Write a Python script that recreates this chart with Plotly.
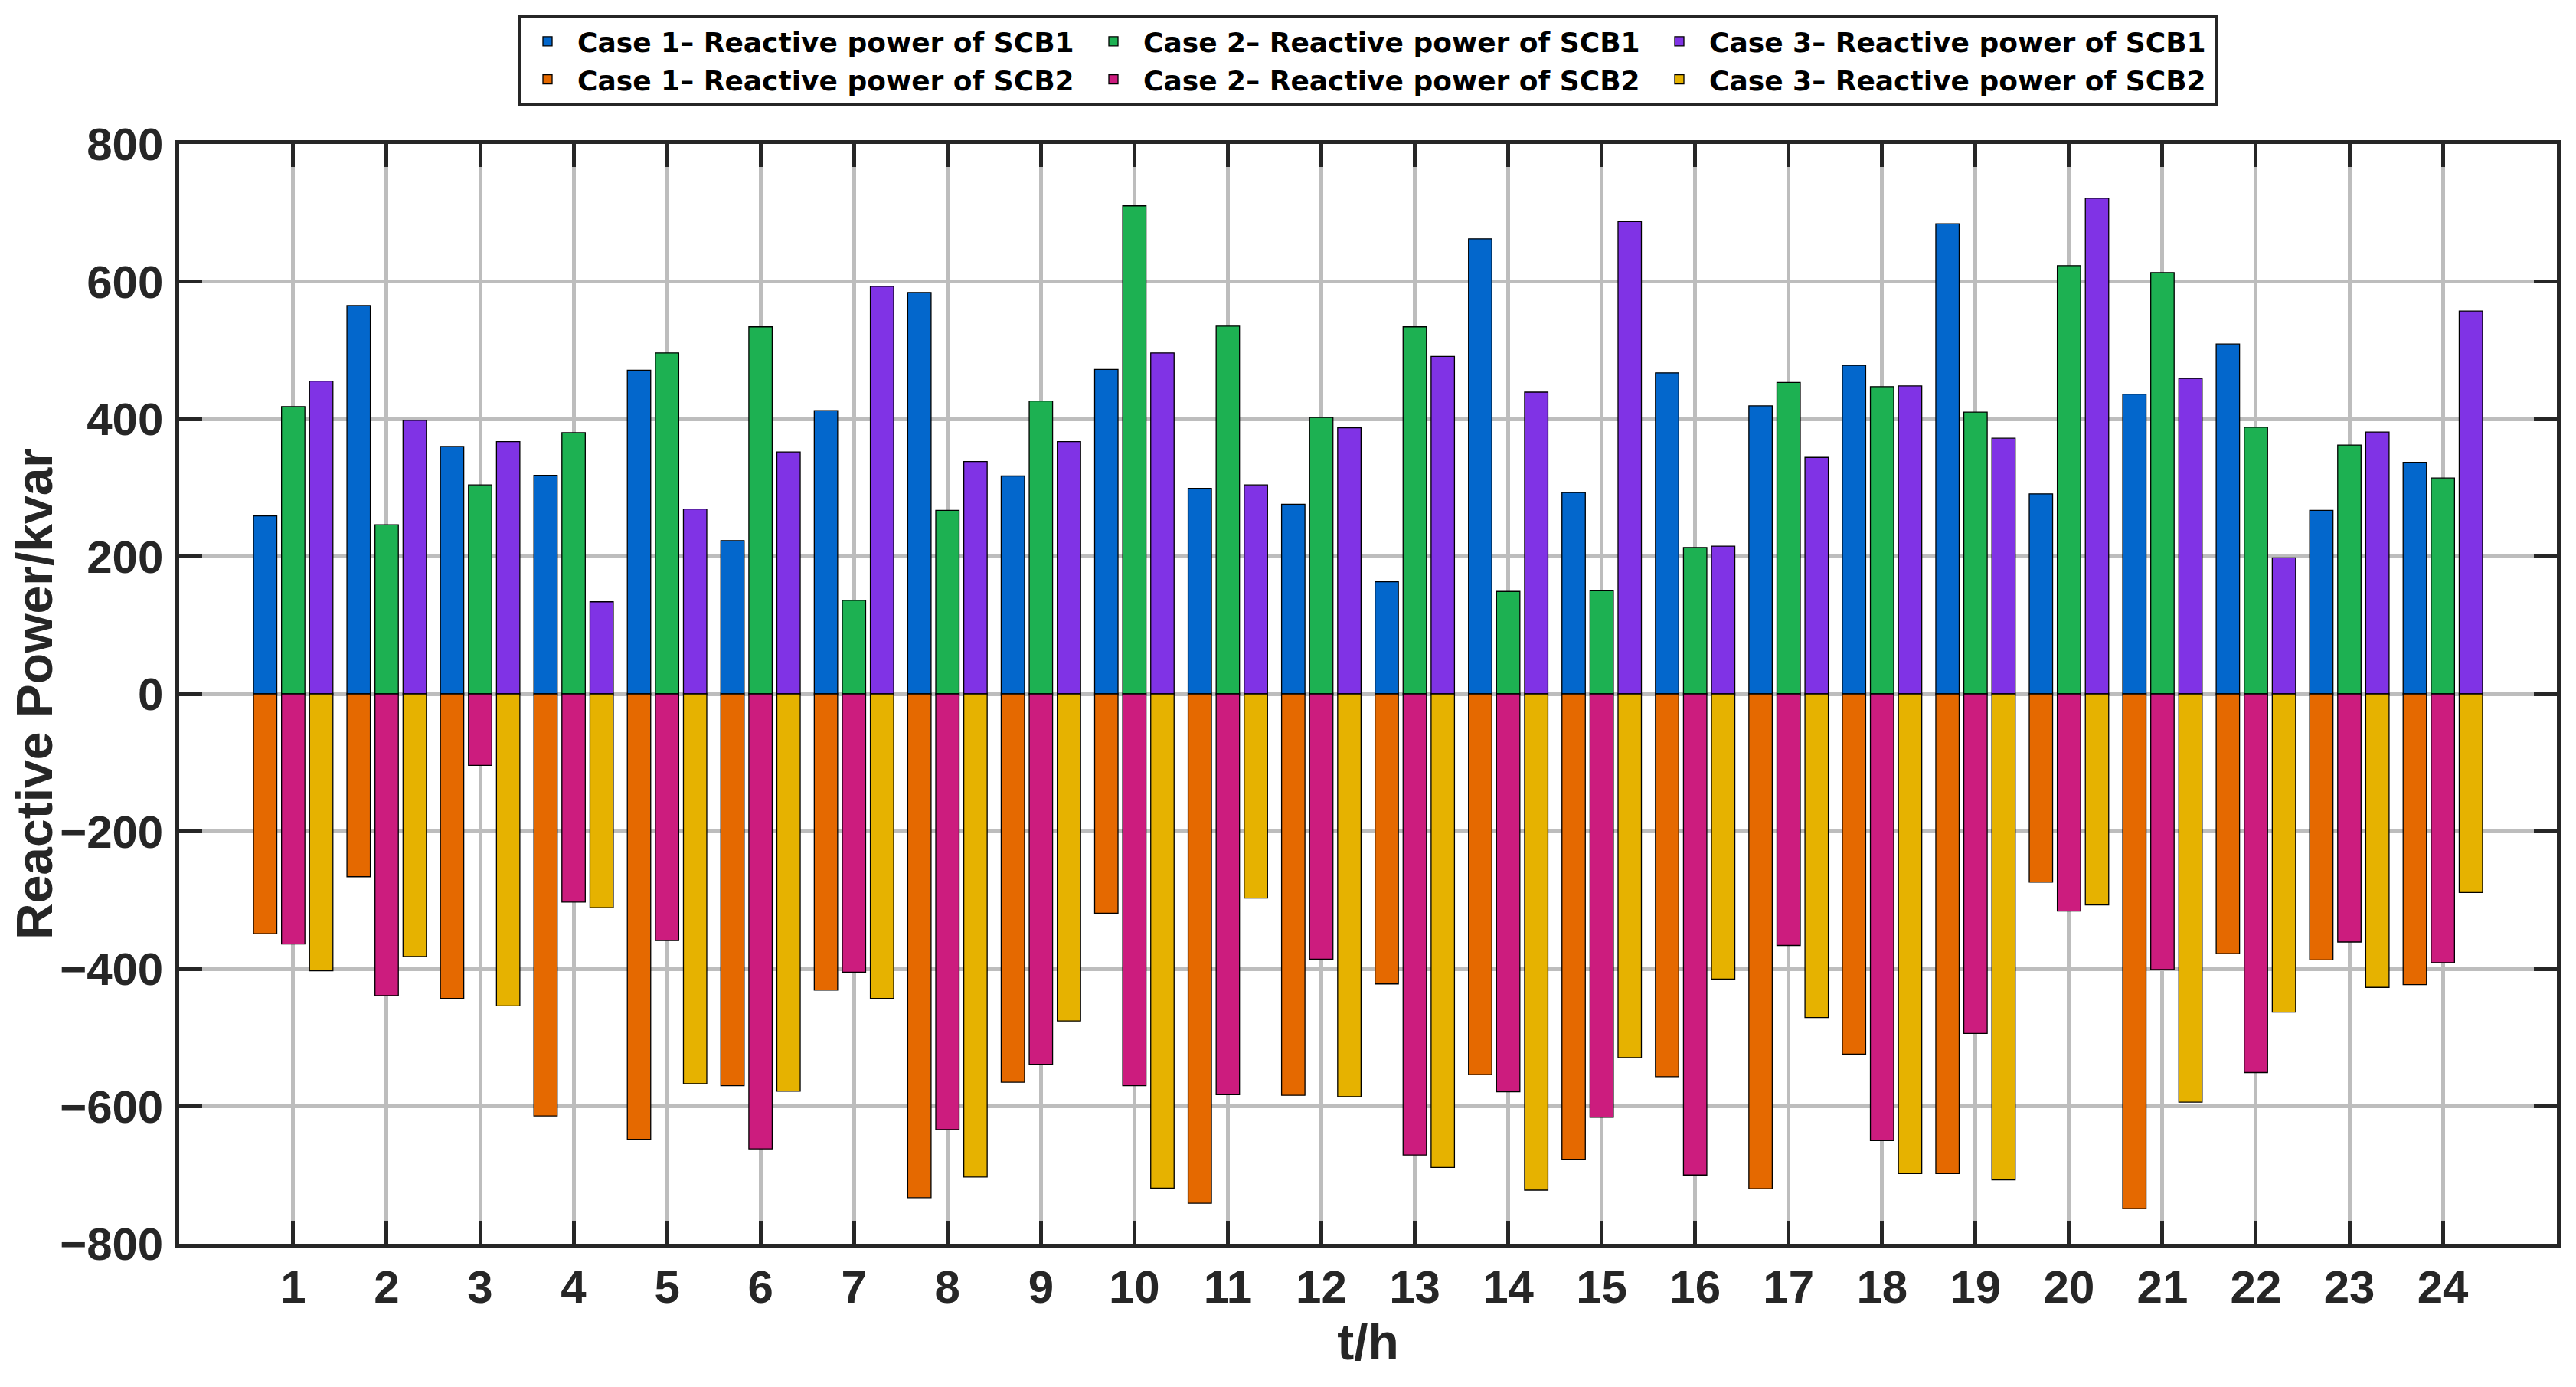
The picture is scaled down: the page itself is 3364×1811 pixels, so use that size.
import plotly.graph_objects as go

# hours of the day
hours = list(range(1, 25))

# reactive power of the two capacitor banks (kvar)
case1_scb1 = [259, 565, 360, 318, 471, 223, 412, 584, 317, 472, 299, 276,
              163, 662, 293, 467, 419, 478, 684, 291, 436, 509, 267, 337]
case2_scb1 = [418, 246, 304, 380, 496, 534, 136, 267, 426, 710, 535, 402,
              534, 149, 150, 213, 453, 447, 410, 623, 613, 388, 362, 314]
case3_scb1 = [455, 398, 367, 134, 269, 352, 593, 338, 367, 496, 304, 387,
              491, 439, 687, 215, 344, 448, 372, 721, 459, 198, 381, 557]
case1_scb2 = [-349, -266, -443, -614, -648, -570, -431, -733, -565, -319, -741, -584,
              -422, -554, -677, -557, -720, -524, -698, -274, -749, -378, -387, -423]
case2_scb2 = [-364, -439, -104, -303, -359, -662, -405, -634, -539, -570, -583, -386,
              -671, -579, -616, -700, -366, -650, -494, -316, -401, -551, -361, -391]
case3_scb2 = [-403, -382, -454, -311, -567, -578, -443, -703, -476, -719, -297, -586,
              -689, -722, -529, -415, -471, -698, -707, -307, -594, -463, -427, -289]

series = [
    ('Case 1– Reactive power of SCB1', case1_scb1, 'case1'),
    ('Case 1– Reactive power of SCB2', case1_scb2, 'case1'),
    ('Case 2– Reactive power of SCB1', case2_scb1, 'case2'),
    ('Case 2– Reactive power of SCB2', case2_scb2, 'case2'),
    ('Case 3– Reactive power of SCB1', case3_scb1, 'case3'),
    ('Case 3– Reactive power of SCB2', case3_scb2, 'case3'),
]
colors = ['#0367cc', '#e56900', '#1db152', '#cc1c7e', '#8033e5', '#e6b200']

FONT = 'Liberation Sans, Arial, sans-serif'
LEGEND_FONT = 'DejaVu Sans, Liberation Sans, sans-serif'
DARK = '#262626'
GRID = '#bdbdbd'

fig = go.Figure()
for (name, vals, grp), col in zip(series, colors):
    fig.add_trace(go.Bar(
        x=hours, y=vals, name=name,
        offsetgroup=grp, legendgroup=grp,
        marker=dict(color=col, line=dict(color='black', width=1.3)),
    ))

axis_style = dict(
    automargin=False,
    showline=True, linewidth=4.5, linecolor=DARK, mirror='ticks',
    ticks='inside', ticklen=30, tickwidth=4.5, tickcolor=DARK,
    showgrid=True, gridcolor=GRID, gridwidth=4.5,
    tickfont=dict(family=FONT, size=60, color=DARK, weight='bold'),
)

fig.update_xaxes(
    range=[-0.22, 25.22], tickvals=hours, zeroline=False,
    title=dict(text='t/h', standoff=18,
               font=dict(family=FONT, size=66, color=DARK, weight='bold')),
    **axis_style)
fig.update_yaxes(
    range=[-800, 800], tick0=0, dtick=200,
    zeroline=True, zerolinecolor=GRID, zerolinewidth=4.5,
    ticklabelstandoff=4,
    title=dict(text='Reactive Power/kvar', standoff=14,
               font=dict(family=FONT, size=66, color=DARK, weight='bold')),
    **axis_style)

# bar baseline
fig.add_hline(y=0, line=dict(color='black', width=1.5), layer='below')

# margins allow for the 8px page margin of the html body
fig.update_layout(
    width=3364, height=1811,
    margin=dict(l=226, r=33, t=177, b=195, pad=0),
    barmode='group', bargap=0.1, bargroupgap=1 / 6,
    plot_bgcolor='white', paper_bgcolor='white',
    font=dict(family=FONT, color='black'),
    legend=dict(
        orientation='h', traceorder='grouped',
        x=0.5, xanchor='center', y=1.117, yanchor='top',
        font=dict(family=LEGEND_FONT, size=36, color='black', weight='bold'),
        bgcolor='white', bordercolor=DARK, borderwidth=4,
        tracegroupgap=0, entrywidth=656, itemwidth=68,
    ),
)

fig.write_html("out.html")
